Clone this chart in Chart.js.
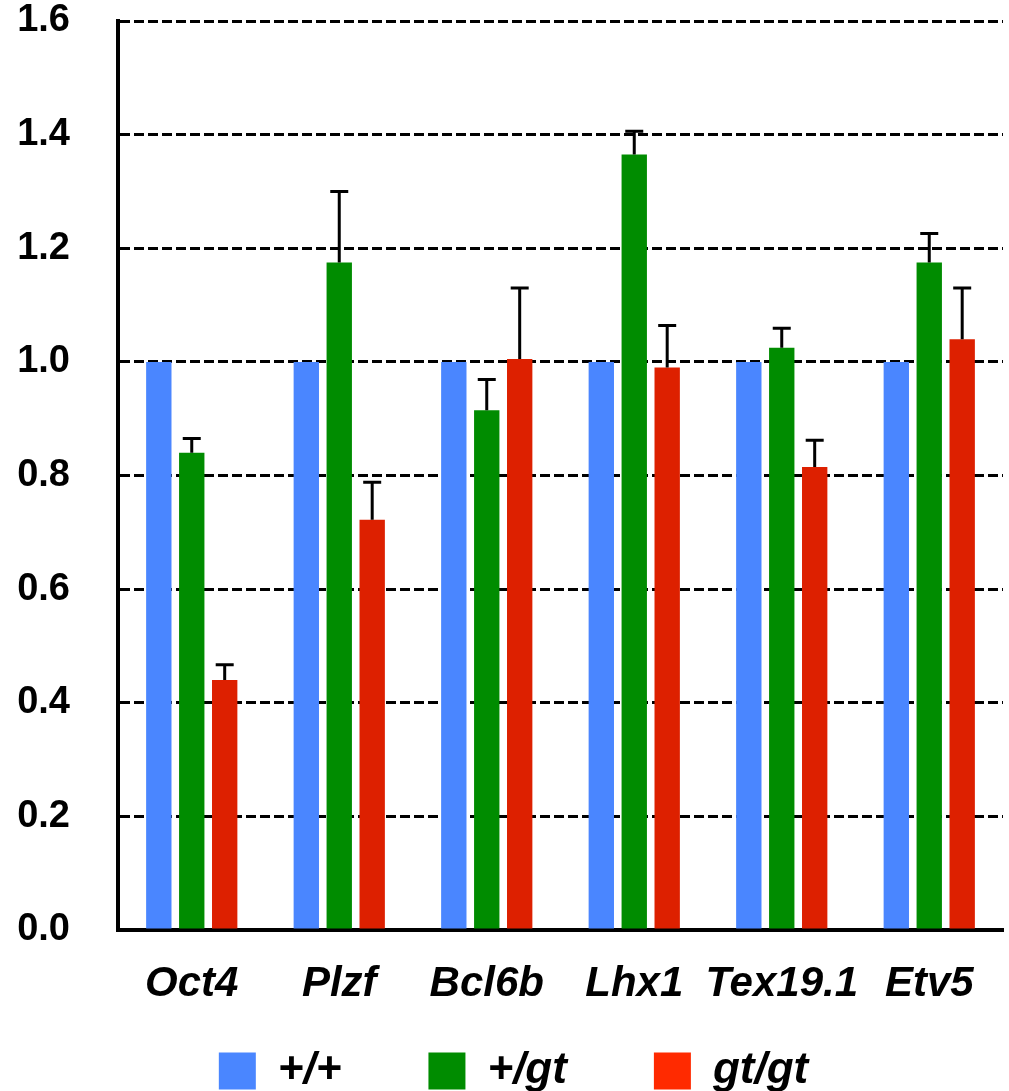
<!DOCTYPE html>
<html>
<head>
<meta charset="utf-8">
<script src="https://cdn.jsdelivr.net/npm/chart.js@4.4.1/dist/chart.umd.min.js"></script>
<style>
    body { margin: 0; background: #fff; }
    #wrap { width: 1009px; height: 1091px; position: relative; }
</style>
</head>
<body>
<div id="wrap"><canvas id="expChart"></canvas></div>
<script>
// Datos del gráfico
const categories = ['Oct4', 'Plzf', 'Bcl6b', 'Lhx1', 'Tex19.1', 'Etv5'];
const seriesNames = ['+/+', '+/gt', 'gt/gt'];
const wildValues = [1.0, 1.0, 1.0, 1.0, 1.0, 1.0];
const hetValues = [0.84, 1.175, 0.915, 1.365, 1.025, 1.175];
const hetErrors = [0.025, 0.125, 0.054, 0.041, 0.034, 0.051];
const homValues = [0.44, 0.722, 1.005, 0.99, 0.815, 1.04];
const homErrors = [0.027, 0.066, 0.125, 0.074, 0.047, 0.09];
const yTicks = [0, 0.2, 0.4, 0.6, 0.8, 1.0, 1.2, 1.4, 1.6];

const fontFamily = '"Liberation Sans", Arial, Helvetica, sans-serif';

// Barras de error (solo hacia arriba, con tope)
const errorBars = {
    id: 'errorBars',
    afterDatasetsDraw(chart) {
        const ctx = chart.ctx;
        const yScale = chart.scales.y;
        chart.data.datasets.forEach((ds, i) => {
            if (!ds.errors) return;
            const meta = chart.getDatasetMeta(i);
            meta.data.forEach((bar, j) => {
                const err = ds.errors[j];
                if (!err) return;
                const yTop = yScale.getPixelForValue(ds.data[j] + err);
                ctx.save();
                ctx.strokeStyle = '#000';
                ctx.lineWidth = 3;
                ctx.beginPath();
                ctx.moveTo(bar.x, bar.y);
                ctx.lineTo(bar.x, yTop);
                ctx.moveTo(bar.x - 9, yTop);
                ctx.lineTo(bar.x + 9, yTop);
                ctx.stroke();
                ctx.restore();
            });
        });
    }
};

const legendColors = ['#4a86ff', '#008c00', '#ff2a00'];

// las etiquetas se salen de la caja de su eje, no recortarlas
const noLabelClip = scale => { scale._computeLabelArea = () => undefined; };

const ctx = document.getElementById('expChart').getContext('2d');
const expChart = new Chart(ctx, {
    type: 'bar',
    data: {
        labels: categories,
        datasets: [
            { label: seriesNames[0], data: wildValues, backgroundColor: '#4a86ff' },
            { label: seriesNames[1], data: hetValues, errors: hetErrors, backgroundColor: '#008c00' },
            { label: seriesNames[2], data: homValues, errors: homErrors, backgroundColor: '#dd2000' }
        ]
    },
    options: {
        responsive: true,
        maintainAspectRatio: false,
        animation: false,
        categoryPercentage: 0.67,
        barPercentage: 0.77,
        layout: { padding: { top: 21, right: 6, left: 24, bottom: -12 } },
        scales: {
            x: {
                grid: { display: false },
                border: { display: true, color: '#000', width: 4 },
                ticks: {
                    color: '#000',
                    padding: 21,
                    maxRotation: 0,
                    minRotation: 0,
                    autoSkip: false,
                    font: { family: fontFamily, size: 42, weight: 'bold', style: 'italic' }
                },
                afterFit(scale) {
                    scale.height = 32;
                    noLabelClip(scale);
                }
            },
            y: {
                min: 0,
                max: 1.6,
                afterBuildTicks(scale) { scale.ticks = yTicks.map(v => ({ value: v })); },
                grid: { color: '#000', lineWidth: 3, drawTicks: false },
                border: { display: true, color: '#000', width: 4, dash: [10, 4] },
                ticks: {
                    color: '#000',
                    padding: 48,
                    font: { family: fontFamily, size: 38, weight: 'bold' },
                    callback: v => Number(v).toFixed(1)
                },
                afterFit(scale) {
                    scale.width = 94;
                    scale.paddingTop = 0;
                    scale.paddingBottom = 0;
                    noLabelClip(scale);
                }
            }
        },
        plugins: {
            tooltip: { enabled: false },
            legend: {
                position: 'bottom',
                labels: {
                    color: '#000',
                    boxWidth: 37,
                    boxHeight: 37,
                    padding: 87,
                    font: { family: fontFamily, size: 44, weight: 'bold', style: 'italic' },
                    generateLabels(chart) {
                        return chart.data.datasets.map((ds, i) => ({
                            text: ds.label,
                            fillStyle: legendColors[i],
                            strokeStyle: legendColors[i],
                            lineWidth: 0,
                            fontColor: '#000',
                            datasetIndex: i
                        }));
                    }
                }
            }
        }
    },
    plugins: [errorBars]
});
</script>
</body>
</html>
